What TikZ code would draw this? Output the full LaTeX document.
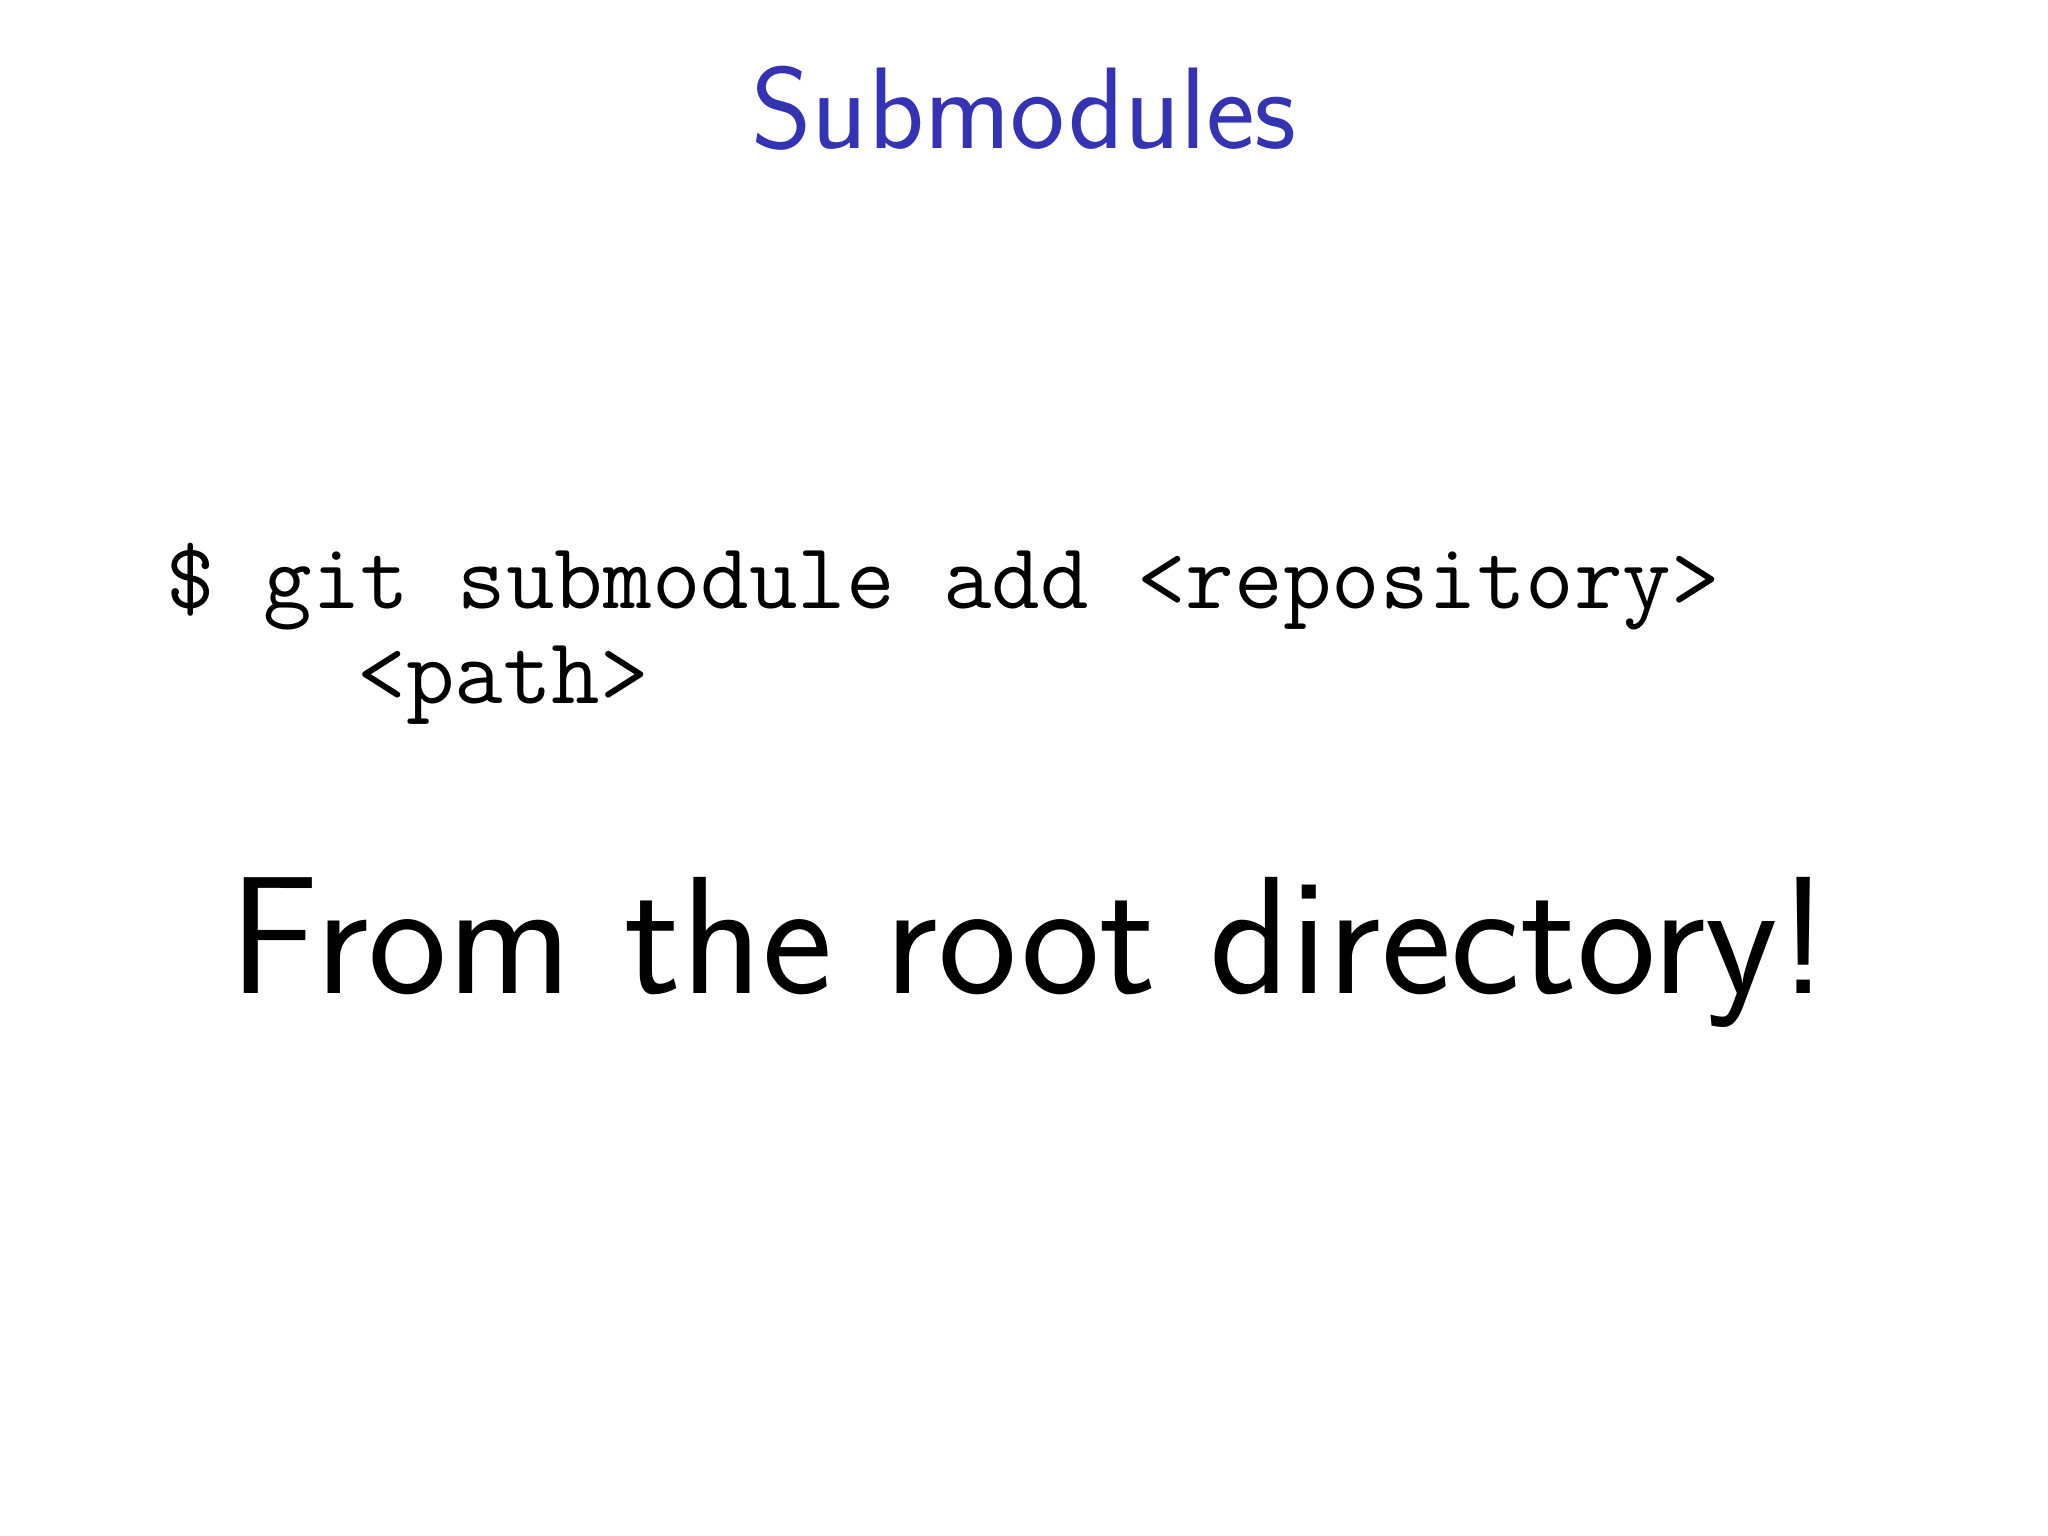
\documentclass[tikz,border=0pt]{standalone}
\usepackage{fontspec}
\definecolor{titleblue}{RGB}{51,51,179}
\tikzset{lbl/.style={inner sep=0pt,anchor=base west}}
\begin{document}
\begin{tikzpicture}[x=0.01cm,y=-0.01cm]
\useasboundingbox (0,0) rectangle (2048,1536);
\node[inner sep=0pt,anchor=base,text=titleblue,font=\sffamily\fontsize{33}{40}\selectfont] (title) at (1024,148) {Submodules};
\node[lbl,font=\ttfamily\fontsize{26.8}{30}\selectfont] (cmd1) at (166,608) {\$ git submodule add <repository>};
\node[lbl,font=\ttfamily\fontsize{26.8}{30}\selectfont] (cmd2) at (357,703) {<path>};
\node[lbl,font=\sffamily\fontsize{47.6}{56}\selectfont] (note) at (229,993) {From the root directory!};
\end{tikzpicture}
\end{document}
